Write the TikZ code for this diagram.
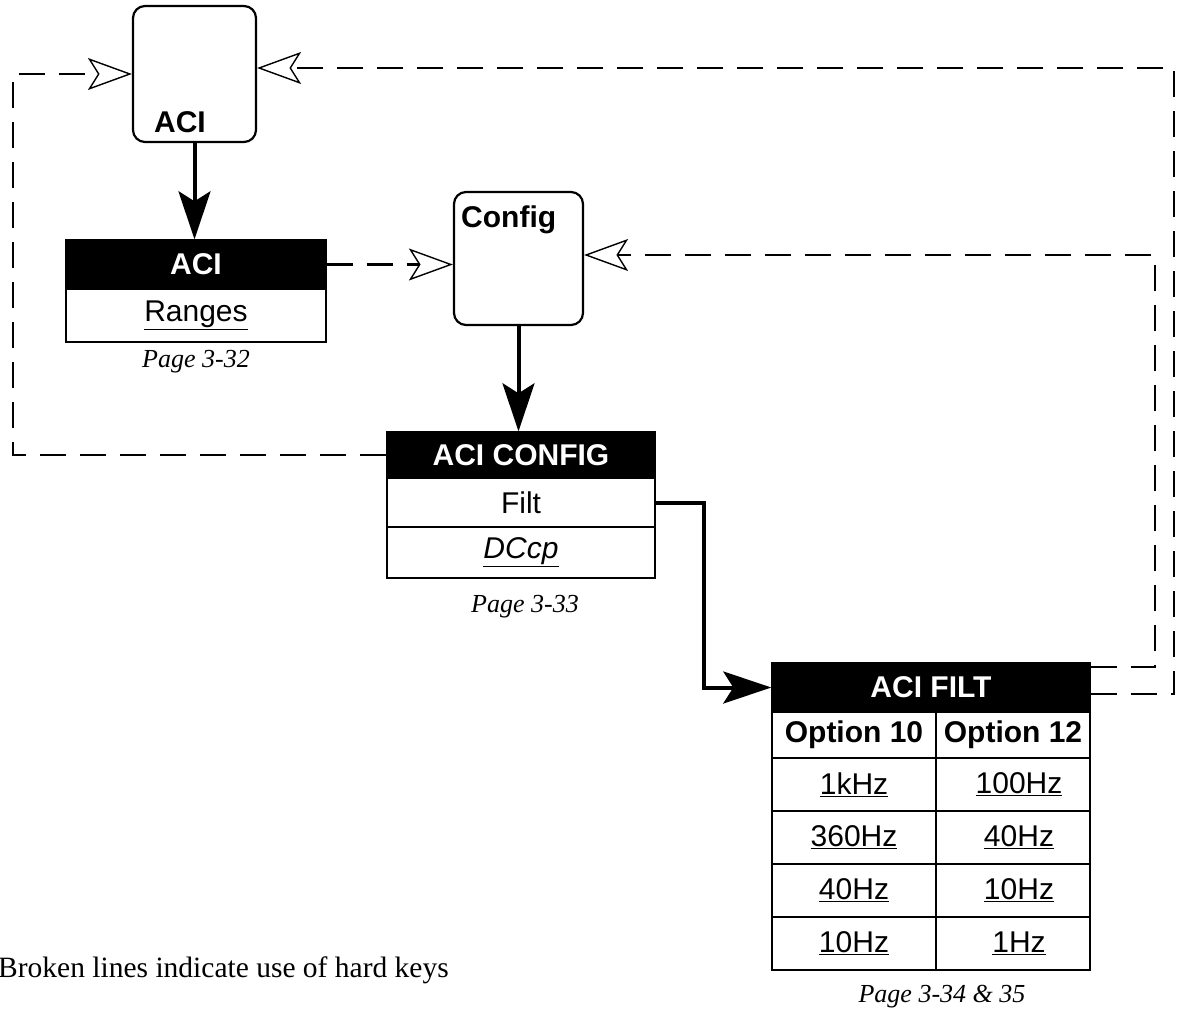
\documentclass[tikz,border=0pt]{standalone}
\usepackage{fontspec}
\setmainfont{Liberation Serif}
\setsansfont{Liberation Sans}
\usetikzlibrary{arrows.meta}
\begin{document}
\begin{tikzpicture}[x=1pt,y=-1pt,
  rbox/.style={draw, line width=2.2pt, rounded corners=12pt, inner sep=0pt},
  hdr/.style={fill=black, draw=black, line width=1.4pt, text=white, font=\sffamily\bfseries\fontsize{30}{30}\selectfont, inner sep=0pt},
  cell/.style={draw, line width=1.4pt, fill=white, font=\sffamily\fontsize{30}{30}\selectfont, inner sep=0pt},
  bcell/.style={cell, font=\sffamily\bfseries\fontsize{30}{30}\selectfont},
  lbl/.style={font=\sffamily\bfseries\fontsize{30}{30}\selectfont, inner sep=0pt},
  pagelbl/.style={font=\itshape\fontsize{26}{26}\selectfont, inner sep=0pt},
  solidarrow/.style={line width=4pt, -{Stealth[length=48pt,width=32pt,inset=10pt]}},
  hardkey/.style={line width=2.3pt, dash pattern=on 26pt off 14pt, -{Stealth[open,fill=white,length=44pt,width=32pt,inset=10pt,line width=1.4pt]}},
]
\useasboundingbox (0,0) rectangle (1189,1015);

% rounded boxes
\node[rbox, minimum width=123pt, minimum height=136pt] (aciBox) at (194.5,74) {};
\node[lbl] (aciBoxLbl) at (180,122) {ACI};
\node[rbox, minimum width=129pt, minimum height=133pt] (cfgBox) at (518.5,258.5) {};
\node[lbl, anchor=west] (cfgLbl) at (461,220) {Config};

% ACI menu
\node[hdr, minimum width=260pt, minimum height=49pt] (aciH) at (196,264.5) {ACI};
\node[cell, minimum width=260pt, minimum height=53pt] (aciR) at (196,315.5) {\underline{Ranges}};
\node[pagelbl] (aciP) at (196,362) {Page 3-32};

% ACI CONFIG menu
\node[hdr, minimum width=268pt, minimum height=46pt] (cfgH) at (521,455) {ACI CONFIG};
\node[cell, minimum width=268pt, minimum height=49pt] (filt) at (521,502.5) {Filt};
\node[cell, minimum width=268pt, minimum height=51pt] (dccp) at (521,552.5) {\underline{\itshape DCcp}};
\node[pagelbl] (cfgP) at (525,607) {Page 3-33};

% ACI FILT menu
\node[hdr, minimum width=318pt, minimum height=49pt] (filtH) at (931,687.5) {ACI FILT};
\node[bcell, minimum width=164pt, minimum height=46pt] (o10) at (854,735) {Option 10};
\node[bcell, minimum width=154pt, minimum height=46pt] (o12) at (1013,735) {Option 12};
\node[cell, minimum width=164pt, minimum height=53pt] (a1) at (854,784.5) {\underline{1kHz}};
\node[cell, minimum width=154pt, minimum height=53pt] (b1) at (1013,784.5) {\hspace*{12pt}\underline{100Hz}};
\node[cell, minimum width=164pt, minimum height=53pt] (a2) at (854,837.5) {\underline{360Hz}};
\node[cell, minimum width=154pt, minimum height=53pt] (b2) at (1013,837.5) {\hspace*{12pt}\underline{40Hz}};
\node[cell, minimum width=164pt, minimum height=53pt] (a3) at (854,890.5) {\underline{40Hz}};
\node[cell, minimum width=154pt, minimum height=53pt] (b3) at (1013,890.5) {\hspace*{12pt}\underline{10Hz}};
\node[cell, minimum width=164pt, minimum height=53pt] (a4) at (854,943.5) {\underline{10Hz}};
\node[cell, minimum width=154pt, minimum height=53pt] (b4) at (1013,943.5) {\hspace*{12pt}\underline{1Hz}};
\node[pagelbl] (filtP) at (942,997) {Page 3-34 \& 35};

% caption
\node[font=\fontsize{29.5}{29.5}\selectfont, anchor=west, inner sep=0pt] (note) at (-2,970) {Broken lines indicate use of hard keys};

% solid connectors
\draw[solidarrow] (aciBox.south) -- (aciBox.south |- aciH.north);
\draw[solidarrow] (cfgBox.south) -- (cfgBox.south |- cfgH.north);
\draw[solidarrow] (filt.east) -- ++(48,0) |- (filtH.west);

% hard-key (dashed) connectors
\coordinate (lc) at (13,74);
\coordinate (oc1) at (1174,68);
\coordinate (oc2) at (1174,694);
\coordinate (ic1) at (1155,255);
\coordinate (ic2) at (1155,667);
\draw[hardkey] (aciH.east) -- (cfgBox.west |- aciH.east);
\draw[hardkey] (cfgH.west) -| (lc) -- (aciBox.west);
\draw[hardkey] (filtH.east |- oc2) -- (oc2) -- (oc1) -- (aciBox.east |- oc1);
\draw[hardkey] (filtH.east |- ic2) -- (ic2) -- (ic1) -- (cfgBox.east |- ic1);
\end{tikzpicture}
\end{document}
